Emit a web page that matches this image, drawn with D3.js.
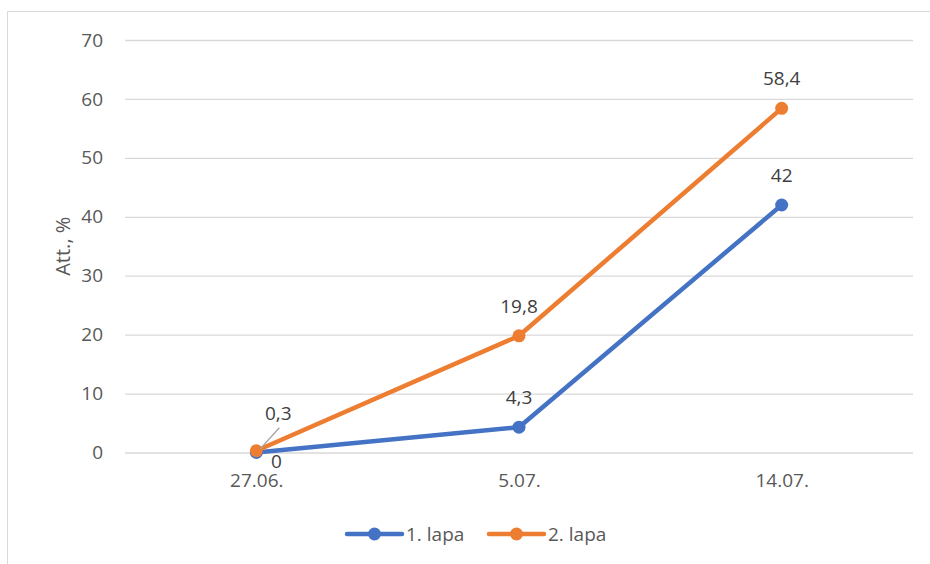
<!DOCTYPE html>
<html>
<head>
<meta charset="utf-8">
<script src="https://cdn.jsdelivr.net/npm/d3@7"></script>
<style>
  html, body { margin: 0; padding: 0; background: #fff; }
  svg { display: block; font-family: "Open Sans", "Noto Sans", sans-serif; }
</style>
</head>
<body>
<svg id="chart" width="930" height="564"></svg>
<script>
// Dates of observation and infection levels per leaf layer
const categories = ["27.06.", "5.07.", "14.07."];
const seriesNames = ["1. lapa", "2. lapa"];
const lapa1 = [0, 4.3, 42];
const lapa2 = [0.3, 19.8, 58.4];
const yTicks = [0, 10, 20, 30, 40, 50, 60, 70];
const colors = ["#4472C4", "#ED7D31"];

const fmt = v => String(v).replace(".", ",");

const svg = d3.select("#chart");
const W = 930, H = 564;
const plot = { left: 125, right: 913, top: 40, bottom: 452.5 };

// chart area frame (only top and left edges fall inside the page)
svg.append("path")
  .attr("d", `M7.5,${H + 5} V11.5 H${W + 5}`)
  .attr("fill", "none")
  .attr("stroke", "#d9d9d9")
  .attr("stroke-width", 1);

const x = d3.scalePoint().domain(categories).range([plot.left, plot.right]).padding(0.5);
const y = d3.scaleLinear().domain([0, 70]).range([plot.bottom, plot.top]);

// horizontal gridlines + y labels
const yAxis = d3.axisLeft(y).tickValues(yTicks).tickSize(-(plot.right - plot.left)).tickPadding(22);
const gy = svg.append("g").attr("transform", `translate(${plot.left},0)`).call(yAxis);
gy.select(".domain").remove();
gy.selectAll(".tick line").attr("stroke", "#d9d9d9").attr("stroke-width", 1.3);
gy.selectAll(".tick text")
  .attr("fill", "#595959")
  .style("font-size", "19px")
  .style("font-family", "'Open Sans', sans-serif");

// x labels
const xAxis = d3.axisBottom(x).tickSize(0).tickPadding(21);
const gx = svg.append("g").attr("transform", `translate(0,${plot.bottom})`).call(xAxis);
gx.select(".domain").remove();
gx.selectAll(".tick text")
  .attr("fill", "#595959")
  .style("font-size", "19px")
  .style("font-family", "'Open Sans', sans-serif");

// y axis title
svg.append("text")
  .attr("transform", `translate(62,${(plot.top + plot.bottom) / 2}) rotate(-90)`)
  .attr("text-anchor", "middle")
  .attr("dominant-baseline", "central")
  .attr("fill", "#595959")
  .style("font-size", "20px")
  .text("Att., %");

const series = [lapa1, lapa2];
const line = d3.line().x((d, i) => x(categories[i])).y(d => y(d));

series.forEach((vals, s) => {
  const g = svg.append("g");
  g.append("path")
    .datum(vals)
    .attr("d", line)
    .attr("fill", "none")
    .attr("stroke", colors[s])
    .attr("stroke-width", 4.5)
    .attr("stroke-linejoin", "round")
    .attr("stroke-linecap", "round");
  g.selectAll("circle")
    .data(vals)
    .join("circle")
    .attr("cx", (d, i) => x(categories[i]))
    .attr("cy", d => y(d))
    .attr("r", 6.5)
    .attr("fill", colors[s]);
});

// leader line for the shifted 0,3 label (drawn under the labels)
{
  const px = x(categories[0]), py = y(lapa2[0]);
  svg.append("line")
    .attr("x1", px + 23).attr("y1", py - 23)
    .attr("x2", px + 4).attr("y2", py - 2)
    .attr("stroke", "#a6a6a6")
    .attr("stroke-width", 1.3);
}

// data labels: default position above the point; first-date labels were shifted aside
const labelShift = {
  "0-0": { dx: 20, dy: 8 },
  "1-0": { dx: 22, dy: -38 }
};
series.forEach((vals, s) => {
  vals.forEach((v, i) => {
    const px = x(categories[i]), py = y(v);
    const sh = labelShift[`${s}-${i}`] || { dx: 0, dy: -30 };
    svg.append("text")
      .attr("x", px + sh.dx)
      .attr("y", py + sh.dy)
      .attr("text-anchor", "middle")
      .attr("dominant-baseline", "central")
      .attr("fill", "#404040")
      .style("font-size", "19px")
      .text(fmt(v));
  });
});

// legend
const legend = svg.append("g").attr("transform", "translate(0,534)");
const legendX = [347, 489];
seriesNames.forEach((name, s) => {
  const lx = legendX[s];
  legend.append("line")
    .attr("x1", lx).attr("x2", lx + 55)
    .attr("y1", 0).attr("y2", 0)
    .attr("stroke", colors[s]).attr("stroke-width", 4.5)
    .attr("stroke-linecap", "round");
  legend.append("circle")
    .attr("cx", lx + 27.5).attr("cy", 0).attr("r", 6.5)
    .attr("fill", colors[s]);
  legend.append("text")
    .attr("x", lx + 59).attr("y", 0)
    .attr("dominant-baseline", "central")
    .attr("fill", "#595959")
    .style("font-size", "19px")
    .text(name);
});
</script>
</body>
</html>
